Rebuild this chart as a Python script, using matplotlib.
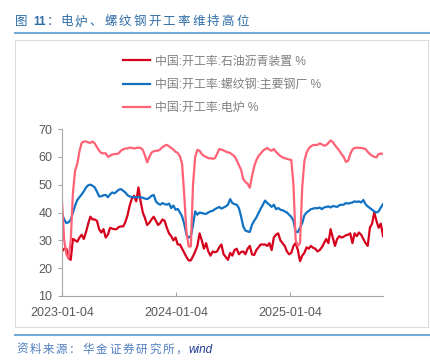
import matplotlib
matplotlib.use("Agg")
import matplotlib.pyplot as plt
import matplotlib.dates as mdates
from matplotlib.lines import Line2D
from matplotlib.patches import Rectangle
import pandas as pd

plt.rcParams['font.family'] = ['Liberation Sans', 'Noto Sans CJK SC', 'DejaVu Sans']

# weekly data, starting 2023-01-04
dates = pd.date_range('2023-01-04', periods=148, freq='7D')

asphalt = [26, 27, 27, 23.5, 23, 30.5, 30, 29.5, 31, 32,
           30.5, 33, 36, 38.5, 37.5, 37.5, 37, 34, 32.8, 34,
           31, 32, 34.5, 34.2, 34, 34, 34.8, 35, 35, 36.5,
           39, 42.5, 45, 46, 44, 49, 44, 40, 38, 35.5,
           36.3, 37.5, 38.5, 37, 35.5, 36.2, 37.5, 37, 34.5, 32.5,
           31.5, 30, 31, 28.5, 28.5, 27, 25.5, 24, 22.8, 22.8,
           24.3, 26, 28, 32.5, 30, 27, 29, 26, 24.5, 26,
           25.7, 26, 27.5, 28.5, 25, 24, 23, 25.5, 24.5, 26.5,
           27, 25, 25.8, 26, 25, 27, 28, 25, 24.7, 26.5,
           27.5, 28.5, 28.5, 28.5, 28, 29, 26.5, 31, 32, 32.5,
           30, 29, 28, 26, 25, 25.5, 28, 29, 26.5, 22.5,
           24.5, 25.5, 27.5, 27, 28, 27.3, 27, 26, 26.5, 27.5,
           29, 30.5, 29, 34, 31, 28, 30.5, 31.5, 31, 31.3,
           31.8, 32, 32.5, 29, 32.5, 31.5, 32.8, 32, 30.5, 29,
           28, 34.5, 36, 40, 37, 34.5, 36, 31.5]

rebar = [39.5, 37.5, 36.2, 36.5, 37.4, 40, 42.5, 44.5, 45.5, 46.5,
         47.6, 49, 49.8, 50, 49.6, 49, 47.5, 45.8, 45.8, 46.2,
         46.3, 45.5, 46.5, 47.2, 46.9, 47.5, 48.2, 48.4, 47.8, 47.2,
         46.2, 45.8, 45.5, 45.5, 45.5, 45.5, 45.5, 45.3, 45, 44.8,
         45.3, 46, 46.3, 44, 43.2, 42.8, 43.4, 43, 42.8, 43.2,
         41.6, 42.5, 41, 41.3, 40, 38.6, 35.8, 32, 31, 31.5,
         35.5, 40.4, 39.2, 40, 39.8, 39.6, 39.5, 40, 40.4, 40.6,
         41.2, 41.6, 42, 41.4, 41.8, 42.2, 42.8, 44.8, 43.4, 43,
         42.8, 41.6, 38.6, 35, 33.5, 33.2, 33, 35.6, 37, 38.2,
         39.8, 41.4, 42.8, 44.3, 43.4, 42.8, 42, 42.8, 41.2, 41.6,
         41, 40.8, 40.4, 40, 39.2, 38.4, 37, 33, 33, 34.5,
         36.2, 39, 40, 40.6, 41.2, 41.4, 41.6, 41.5, 41.8, 41.2,
         41.8, 42, 42.2, 41.8, 42.3, 42.2, 42, 42.6, 42.8, 42.8,
         43.4, 43.2, 43.4, 43.6, 44, 43.8, 44, 43.6, 44.5, 43,
         42.2, 41.6, 41, 40.4, 40, 40.4, 41.8, 43]

eaf = [44, 30, 25, 23.5, 30, 47, 55, 57.5, 62, 65,
       65.5, 65.5, 65.2, 65, 65.5, 64.8, 63.5, 62.2, 61.4, 61.2,
       61.3, 60, 60.4, 60.8, 61, 61, 61.3, 62.2, 62.7, 63,
       63, 63.3, 63.2, 63, 63.2, 63.3, 63.2, 62.5, 60.5, 58,
       60, 61.5, 62, 62.2, 62.2, 62.7, 63.5, 64, 64.3, 63.8,
       63.2, 62.6, 61.8, 61.4, 60.2, 57.5, 46, 33, 27.8, 27.8,
       50, 60, 62.5, 62.2, 61, 60.3, 60, 59.5, 59.5, 59.3,
       59.5, 61, 62.8, 62.6, 62.3, 61.9, 61.6, 61.4, 60.8, 60.2,
       58.8, 57, 55.4, 52, 51, 50.3, 48.9, 53, 56.5, 58.8,
       60.3, 61.2, 62.2, 62.7, 63.2, 62.5, 62.2, 62.8, 61.8, 61,
       60.3, 59.8, 59.5, 59.3, 59, 58.9, 50, 30, 28, 29,
       49, 58.5, 61.5, 63, 63.8, 64.2, 64.3, 64.3, 64.8, 64.5,
       64, 64.2, 65, 65.9, 65.3, 64.2, 63.2, 62.2, 61, 60,
       58.2, 58.5, 61, 62.6, 63.2, 63.3, 63.2, 63.2, 63, 62.8,
       61.8, 61, 60.4, 60, 59.8, 61, 61.2, 61]

labels = ['中国:开工率:石油沥青装置 %', '中国:开工率:螺纹钢:主要钢厂 %', '中国:开工率:电炉 %']
colors = ['#D6001C', '#1172C4', '#FF6175']
xticks = ['2023-01-04', '2024-01-04', '2025-01-04']

title_rest = '电炉、螺纹钢开工率维持高位'
source_cn = '资料来源：华金证券研究所，'

fig = plt.figure(figsize=(4.31, 3.61), dpi=100)
W, H = 431, 361


def spaced(x0, y0, s, pitch, **kw):
    # the original has wide letter spacing, so place the glyphs one by one
    for k, ch in enumerate(s):
        fig.text((x0 + k * pitch) / W, 1 - y0 / H, ch, va='center', **kw)


# title + rules
title_color = '#2F6DA8'
fig.text(15.5 / W, 1 - 22 / H, '图', color=title_color, fontsize=9, va='center')
fig.text(33.5 / W, 1 - 22 / H, '11', color=title_color, fontsize=8.5, va='center', fontweight='bold')
fig.text(47 / W, 1 - 22 / H, '：', color=title_color, fontsize=9, va='center')
spaced(60, 22, title_rest, 14.67, color=title_color, fontsize=9)

fig.add_artist(Line2D([15 / W, 1], [1 - 33 / H, 1 - 33 / H], color='#74A9D8', lw=1.5))
fig.add_artist(Line2D([15 / W, 1], [1 - 335 / H, 1 - 335 / H], color='#74A9D8', lw=1.5))
fig.add_artist(Rectangle((15 / W, 1 - 327 / H), 413 / W, 287 / H, fill=False,
                         edgecolor='#DCDCDC', lw=0.8))

ax = fig.add_axes([62 / W, 1 - 296 / H, 321 / W, 167 / H])
series = [asphalt, rebar, eaf]
for vals, lab, c in zip(series, labels, colors):
    ax.plot(dates, vals, color=c, lw=1.6, label=lab)

ax.set_ylim(10, 70)
ax.set_yticks([10, 20, 30, 40, 50, 60, 70])
ax.set_xlim(dates[0], dates[-1])
ax.set_xticks(pd.to_datetime(xticks))
ax.xaxis.set_major_formatter(mdates.DateFormatter('%Y-%m-%d'))
for s in ['top', 'right']:
    ax.spines[s].set_visible(False)
for s in ['left', 'bottom']:
    ax.spines[s].set_color('#A6A6A6')
    ax.spines[s].set_linewidth(0.8)
ax.tick_params(axis='y', colors='#A6A6A6', labelcolor='#595959', labelsize=9, length=3, width=0.8, pad=4)
ax.tick_params(axis='x', colors='#A6A6A6', labelcolor='#595959', labelsize=9, length=3, width=0.8,
               direction='in', pad=8)

fig.legend(loc='upper left', bbox_to_anchor=(123 / W, 1 - 55.5 / H), frameon=False,
           fontsize=8.6, labelcolor='#808080', handlelength=2.3, handletextpad=0.42,
           labelspacing=0.95, borderpad=0, borderaxespad=0)

spaced(16, 350, source_cn, 13.3, color='#4F7FC0', fontsize=8.3, style='italic')
fig.text(188 / W, 1 - 350 / H, 'wind', color='#1F3A93', fontsize=8.5, va='center', style='italic')

fig.savefig('out.png', dpi=100)
